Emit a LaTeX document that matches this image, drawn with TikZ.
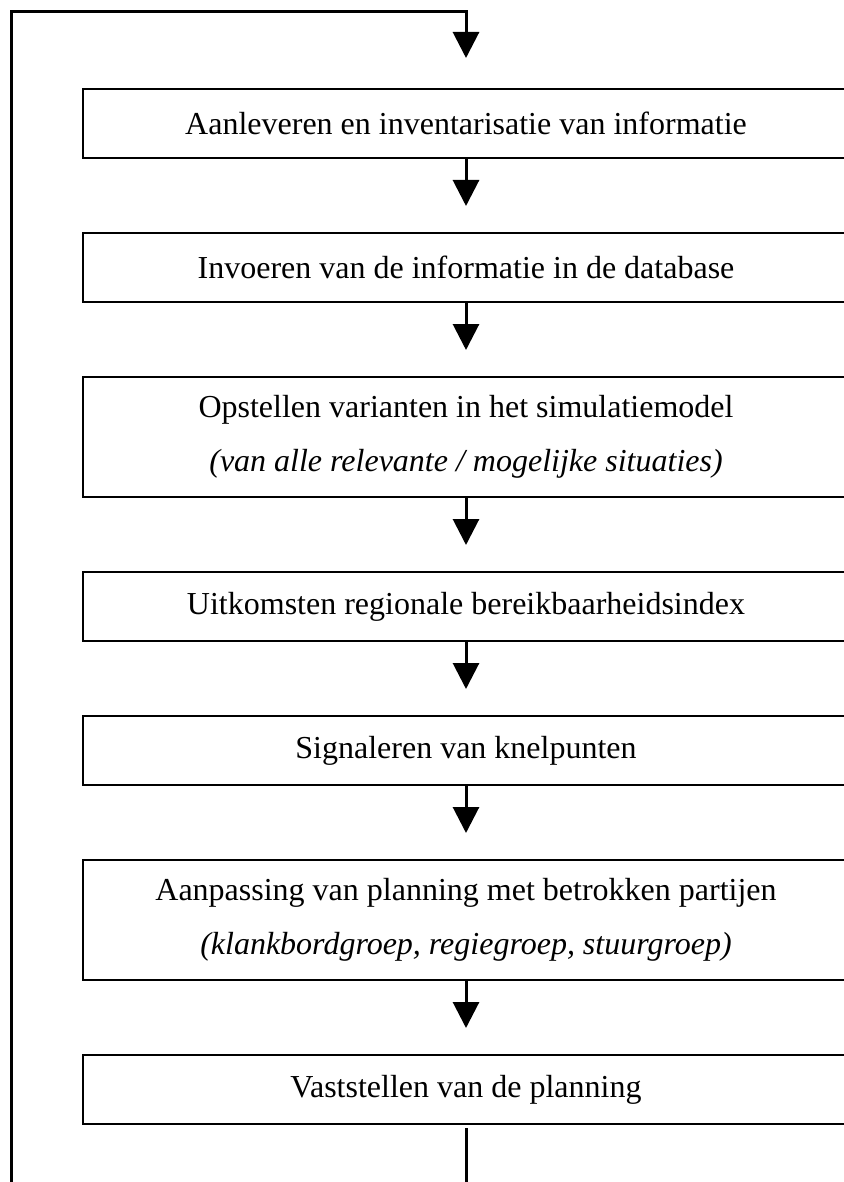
\documentclass[tikz,border=0pt]{standalone}
\usepackage{fontspec}
\setmainfont{Liberation Serif}
\usetikzlibrary{arrows.meta,positioning}

\begin{document}
\begin{tikzpicture}[
  x=1pt, y=1pt,
  node distance=36.5pt,
  stap/.style={draw, line width=1pt, minimum width=383pt, minimum height=34.5pt, inner sep=0pt, align=center, font=\fontsize{16pt}{27pt}\selectfont},
  stap2/.style={stap, minimum height=60pt},
  pijl/.style={-{Triangle[length=13pt, width=13pt]}, line width=1.5pt},
  lijn/.style={line width=1.5pt}
]
\useasboundingbox (0,0) rectangle (422,-591);

\node[stap, anchor=north] (aanleveren) at (233,-44) {Aanleveren en inventarisatie van informatie};
\node[stap, below=of aanleveren] (invoeren) {Invoeren van de informatie in de database};
\node[stap2, below=of invoeren] (varianten) {Opstellen varianten in het simulatiemodel\\\textit{(van alle relevante / mogelijke situaties)}};
\node[stap, below=of varianten] (uitkomsten) {Uitkomsten regionale bereikbaarheidsindex};
\node[stap, below=of uitkomsten] (knelpunten) {Signaleren van knelpunten};
\node[stap2, below=of knelpunten] (aanpassing) {Aanpassing van planning met betrokken partijen\\\textit{(klankbordgroep, regiegroep, stuurgroep)}};
\node[stap, below=of aanpassing] (vaststellen) {Vaststellen van de planning};

% pijlen tussen de stappen
\foreach \a/\b in {aanleveren/invoeren, invoeren/varianten, varianten/uitkomsten,
                   uitkomsten/knelpunten, knelpunten/aanpassing, aanpassing/vaststellen}
  \draw[pijl] (\a.south) -- ([yshift=13pt]\b.north);

% terugkoppeling
\coordinate (onder) at (5.5,-591);
\draw[pijl] (onder) |- ([yshift=38pt]aanleveren.north) -- ([yshift=15pt]aanleveren.north);
\draw[lijn] ([yshift=-1.5pt]vaststellen.south) -- (vaststellen.south |- onder);
\end{tikzpicture}
\end{document}
